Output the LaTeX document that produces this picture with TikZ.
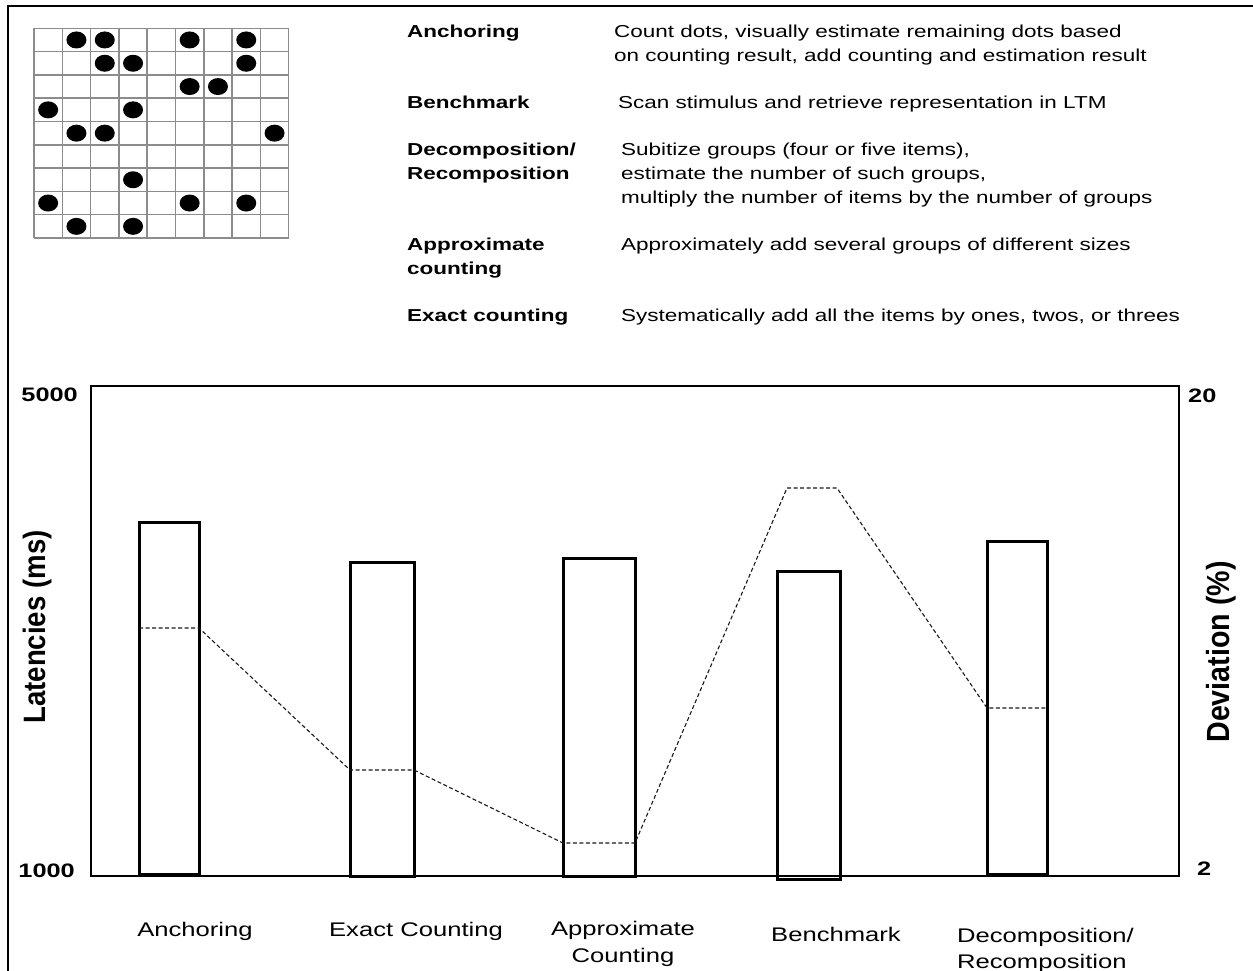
\documentclass[tikz,border=0pt]{standalone}
\usepackage{fontspec}
\setmainfont[FakeStretch=1.3]{Liberation Sans}
\newfontfamily\plainfont{Liberation Sans}
\usepackage{graphicx}
\begin{document}
\begin{tikzpicture}[x=1pt,y=-1pt,
  toplab/.style={anchor=base west, font=\bfseries\fontsize{17.3}{21}\selectfont, inner sep=0pt},
  desc/.style={anchor=base west, font=\fontsize{17.3}{21}\selectfont, inner sep=0pt},
  catlab/.style={anchor=base, font=\fontsize{19.7}{24}\selectfont, inner sep=0pt},
  ticklab/.style={font=\bfseries\fontsize{19.5}{22}\selectfont, inner sep=0pt},
  axtitle/.style={rotate=90, inner sep=0pt},
  barbox/.style={draw=black, line width=3pt},
  devline/.style={draw=black!90, line width=1.1pt, dash pattern=on 4pt off 2.5pt},
  chartframe/.style={draw=black, line width=2.5pt},
  outerframe/.style={draw=black, line width=2pt},
  gridline/.style={draw=black!45, line width=1.5pt},
  dotmark/.style={fill=black}]
\useasboundingbox (0,0) rectangle (1253,970);
% outer frame (cropped)
\draw[outerframe] (8,980) -- (8,6) -- (1260,6);
% dot grid
\foreach \i in {0,...,9} \draw[gridline] ({34+28.3*\i},28.3) -- ({34+28.3*\i},238);
\foreach \j in {0,...,9} \draw[gridline] (34,{28.3+23.3*\j}) -- (288.7,{28.3+23.3*\j});
\foreach \r/\c in {0/1,0/2,0/5,0/7,1/2,1/3,1/7,2/5,2/6,3/0,3/3,4/1,4/2,4/8,6/3,7/0,7/5,7/7,8/1,8/3}
  \fill[dotmark] ({34+28.3*(\c+0.5)},{28.3+23.3*(\r+0.5)}) ellipse [x radius=10pt, y radius=8.5pt];
% strategy table
\node[toplab] (tA) at (407,37) {Anchoring};
\node[desc] (dA1) at (614,37) {Count dots, visually estimate remaining dots based};
\node[desc] (dA2) at (614,61) {on counting result, add counting and estimation result};
\node[toplab] (tB) at (407,108) {Benchmark};
\node[desc] (dB1) at (618,108) {Scan stimulus and retrieve representation in LTM};
\node[toplab] (tD1) at (407,155) {Decomposition/};
\node[toplab] (tD2) at (407,179) {Recomposition};
\node[desc] (dD1) at (621,155) {Subitize groups (four or five items),};
\node[desc] (dD2) at (621,179) {estimate the number of such groups,};
\node[desc] (dD3) at (621,203) {multiply the number of items by the number of groups};
\node[toplab] (tP1) at (407,250) {Approximate};
\node[toplab] (tP2) at (407,274) {counting};
\node[desc] (dP1) at (621,250) {Approximately add several groups of different sizes};
\node[toplab] (tE) at (407,321) {Exact counting};
\node[desc] (dE1) at (621,321) {Systematically add all the items by ones, twos, or threes};
% chart frame
\draw[chartframe] (91,386) rectangle (1179,876);
% bars
\draw[barbox] (139,874) rectangle (199,522);
\draw[barbox] (350,876) rectangle (414,562);
\draw[barbox] (563,876) rectangle (635,558);
\draw[barbox] (777,879) rectangle (840,571);
\draw[barbox] (987,874) rectangle (1047,541);
% deviation line
\draw[devline] (139,628) -- (199,628) -- (350,770) -- (414,770) -- (563,843) -- (635,843)
  -- (787,488) -- (837,488) -- (987,708) -- (1047,708);
% tick labels
\node[ticklab, anchor=base east] (y5000) at (78,401) {5000};
\node[ticklab, anchor=base east] (y1000) at (75,877) {1000};
\node[ticklab, anchor=base west] (r20) at (1188,402) {20};
\node[ticklab, anchor=base west] (r2) at (1197,875) {2};
% axis titles
\node[axtitle] (latt) at (38,627) {\scalebox{1}[1.12]{\plainfont\bfseries\fontsize{27.6}{30}\selectfont Latencies (ms)}};
\node[axtitle] (devt) at (1221,652) {\scalebox{1}[1.12]{\plainfont\bfseries\fontsize{28.6}{31}\selectfont Deviation (\%)}};
% category labels
\node[catlab] (cA) at (195,936) {Anchoring};
\node[catlab] (cE) at (416,936) {Exact Counting};
\node[catlab] (cP1) at (623,935) {Approximate};
\node[catlab] (cP2) at (623,962) {Counting};
\node[catlab] (cB) at (836,941) {Benchmark};
\node[catlab, anchor=base west] (cD1) at (957,942) {Decomposition/};
\node[catlab, anchor=base west] (cD2) at (957,968) {Recomposition};
\end{tikzpicture}
\end{document}
